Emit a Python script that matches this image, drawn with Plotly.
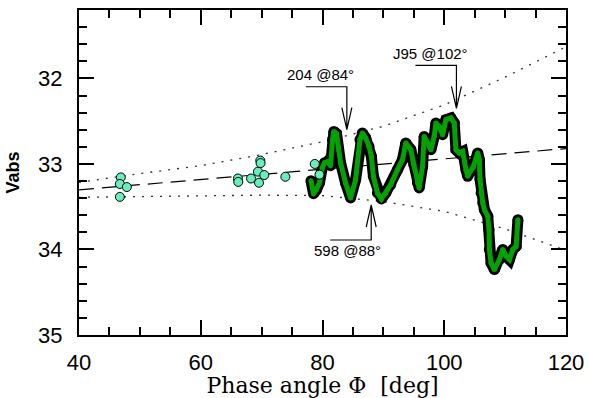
import plotly.graph_objects as go

# Individual photometric measurements (phase angle [deg], absolute magnitude)
obs_phase = [46.87, 46.71, 47.86, 46.71, 66.11, 66.16, 68.26, 69.40, 69.78,
             69.83, 70.44, 69.57, 73.90, 78.73, 79.50]
obs_mag = [33.157, 33.234, 33.270, 33.385, 33.170, 33.210, 33.170, 33.090,
           32.960, 32.990, 33.130, 33.220, 33.150, 33.000, 33.125]

# Dense light-curve track
track_phase = [78.11, 78.52, 79.01, 79.51, 79.95, 80.33, 80.83, 81.32, 81.65,
               81.87, 82.31, 82.64, 82.97, 83.79, 84.62, 85.44, 86.15, 86.55,
               87.09, 87.63, 88.03, 88.36, 89.02, 89.68, 90.39, 91.21, 92.32,
               93.14, 93.68, 94.51, 95.00, 95.61, 95.88, 96.44, 96.70, 97.26,
               97.81, 98.35, 98.63, 99.17, 99.73, 100.28, 101.10, 101.64,
               101.92, 102.47, 103.03, 103.57, 103.85, 104.23, 104.73, 105.50,
               105.77, 105.88, 106.05, 106.33, 106.59, 107.15, 107.36, 107.41,
               107.69, 108.24, 109.06, 109.62, 110.17, 110.71, 111.27, 111.81,
               112.10]
track_mag = [33.195, 33.347, 33.300, 33.218, 33.047, 32.985, 32.973, 33.020,
             32.716, 32.620, 32.646, 32.833, 32.988, 33.222, 33.397, 33.183,
             32.716, 32.638, 32.696, 32.794, 32.911, 33.145, 33.339, 33.409,
             33.339, 33.242, 33.067, 32.950, 32.755, 32.833, 33.008, 33.222,
             33.280, 33.028, 32.678, 32.755, 32.833, 32.678, 32.521, 32.561,
             32.658, 32.482, 32.463, 32.521, 32.833, 32.871, 32.853, 33.067,
             33.145, 33.090, 33.043, 32.871, 32.950, 33.180, 33.339, 33.456,
             33.534, 33.612, 33.768, 34.000, 34.157, 34.235, 34.118, 34.000,
             34.079, 34.118, 34.000, 33.963, 33.651]

# Mean phase relation and its envelope
fit_phase = [40, 120]
fit_mag = [33.303, 32.820]
env_phase = [40, 50, 60, 70, 80, 90, 100, 110, 120]
env_upper = [33.215, 33.113, 33.020, 32.890, 32.740, 32.560, 32.310, 31.985, 31.630]
env_lower = [33.390, 33.380, 33.370, 33.365, 33.370, 33.440, 33.555, 33.760, 34.010]

# Labelled events
event_text = ["204 @84°", "J95 @102°", "598 @88°"]
event_phase = [84, 102, 88]
event_mag = [32.60, 32.35, 33.48]
event_from_above = [True, True, False]

fig = go.Figure()

fig.add_trace(go.Scatter(x=env_phase, y=env_upper, mode="lines",
                         line=dict(color="#333333", width=1.3, dash="2px,7px"),
                         hoverinfo="skip"))
fig.add_trace(go.Scatter(x=env_phase, y=env_lower, mode="lines",
                         line=dict(color="#333333", width=1.3, dash="2px,7px"),
                         hoverinfo="skip"))
fig.add_trace(go.Scatter(x=fit_phase, y=fit_mag, mode="lines",
                         line=dict(color="black", width=1.2, dash="15px,8px"),
                         hoverinfo="skip"))

# Light-curve track: black outline under a green core
fig.add_trace(go.Scatter(x=track_phase, y=track_mag, mode="lines+markers",
                         line=dict(color="black", width=11),
                         marker=dict(color="black", size=11)))
fig.add_trace(go.Scatter(x=track_phase, y=track_mag, mode="lines+markers",
                         line=dict(color="#00a300", width=5),
                         marker=dict(color="#00a300", size=5)))

fig.add_trace(go.Scatter(x=obs_phase, y=obs_mag, mode="markers",
                         marker=dict(color="#66eebb", size=9,
                                     line=dict(color="black", width=1))))

shapes = []
annotations = []
for txt, ph, mg, above in zip(event_text, event_phase, event_mag, event_from_above):
    if above:
        path = "M-41,43 L0,43 L0,0 M-5,22 L0,0 L5,22"
        xs, ys = -26, 55
    else:
        path = "M-41,-35 L0,-35 L0,0 M-5,-22 L0,0 L5,-22"
        xs, ys = -24, -45
    shapes.append(dict(type="path", xref="x", yref="y",
                       xsizemode="pixel", ysizemode="pixel",
                       xanchor=ph, yanchor=mg, path=path,
                       line=dict(color="black", width=1.2)))
    annotations.append(dict(x=ph, y=mg, xref="x", yref="y", text=txt,
                            showarrow=False, xshift=xs, yshift=ys,
                            font=dict(family="Liberation Sans", size=15, color="black")))

axis_common = dict(
    showgrid=False, zeroline=False, showline=True, linecolor="black",
    linewidth=2, mirror="allticks", ticks="inside", ticklen=15,
    tickwidth=1.5, tickcolor="black", automargin=False,
    tickfont=dict(family="Liberation Sans", size=22, color="black"),
)

fig.update_layout(
    width=589, height=398,
    margin=dict(l=79, r=23, t=10, b=63),
    paper_bgcolor="white", plot_bgcolor="white",
    showlegend=False,
    shapes=shapes, annotations=annotations,
    xaxis=dict(range=[40, 120], dtick=20, tick0=40,
               minor=dict(dtick=5, ticks="inside", ticklen=8, tickwidth=1.5,
                          tickcolor="black"),
               ticklabelstandoff=7,
               title=dict(text="Phase angle Φ  [deg]", standoff=4,
                          font=dict(family="DejaVu Serif", size=22, color="black")),
               **axis_common),
    yaxis=dict(range=[35, 31.2], dtick=1, tick0=32,
               minor=dict(dtick=0.2, ticks="inside", ticklen=8, tickwidth=1.5,
                          tickcolor="black"),
               ticklabelstandoff=10,
               title=dict(text="<b>Vabs</b>", standoff=14,
                          font=dict(family="Liberation Sans", size=18, color="black")),
               **axis_common),
)

fig.write_html("out.html")
